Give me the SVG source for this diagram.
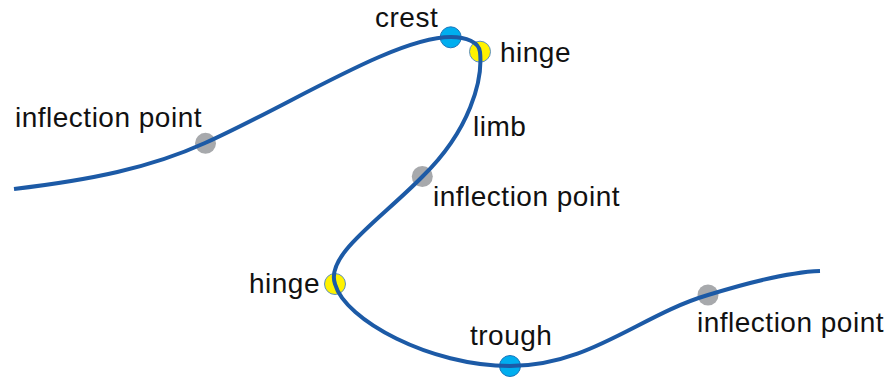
<svg xmlns="http://www.w3.org/2000/svg" width="887" height="377" viewBox="0 0 887 377">
<style>
.lbl{font-family:"Liberation Sans",Arial,sans-serif;font-size:28px;letter-spacing:0.5px;fill:#111}
.infl{fill:#a7a9ac}
.blue{fill:#00aeef;stroke:#1b75bb;stroke-width:1}
.yel{fill:#fff200;stroke:#5b8fc0;stroke-width:1}
.curve{fill:none;stroke:#1c5aa6;stroke-width:4;stroke-linecap:butt}
</style>
<rect width="887" height="377" fill="#fff"/>
<g id="points">
<g id="inflection-left"><circle class="infl" cx="205.5" cy="143.3" r="10.5"/></g>
<g id="crest"><circle class="blue" cx="450.7" cy="37.3" r="10.5"/></g>
<g id="hinge-top"><circle class="yel" cx="480" cy="51.7" r="10.5"/></g>
<g id="inflection-middle"><circle class="infl" cx="422.3" cy="176.5" r="10.5"/></g>
<g id="hinge-bottom"><circle class="yel" cx="335" cy="284" r="10.5"/></g>
<g id="trough"><circle class="blue" cx="510" cy="366" r="10.5"/></g>
<g id="inflection-right"><circle class="infl" cx="708" cy="295" r="10.5"/></g>
</g>
<g id="connectors">
<path class="curve" d="M14,189 C90,180 150,168 205,143 C290,105 395,37 451,37 C466,37 479,42 480,52 C483,80 470,130 423,176 C380,220 325,255 335,284 C345,320 430,366 510,366 C590,366 640,315 708,295 C750,282 790,272 820,271"/>
</g>
<g id="labels">
<text class="lbl" x="375" y="27">crest</text>
<text class="lbl" x="500" y="62">hinge</text>
<text class="lbl" x="15" y="127">inflection point</text>
<text class="lbl" x="473" y="136">limb</text>
<text class="lbl" x="433" y="206">inflection point</text>
<text class="lbl" x="249" y="293">hinge</text>
<text class="lbl" x="470" y="345">trough</text>
<text class="lbl" x="697" y="332">inflection point</text>
</g>
</svg>
